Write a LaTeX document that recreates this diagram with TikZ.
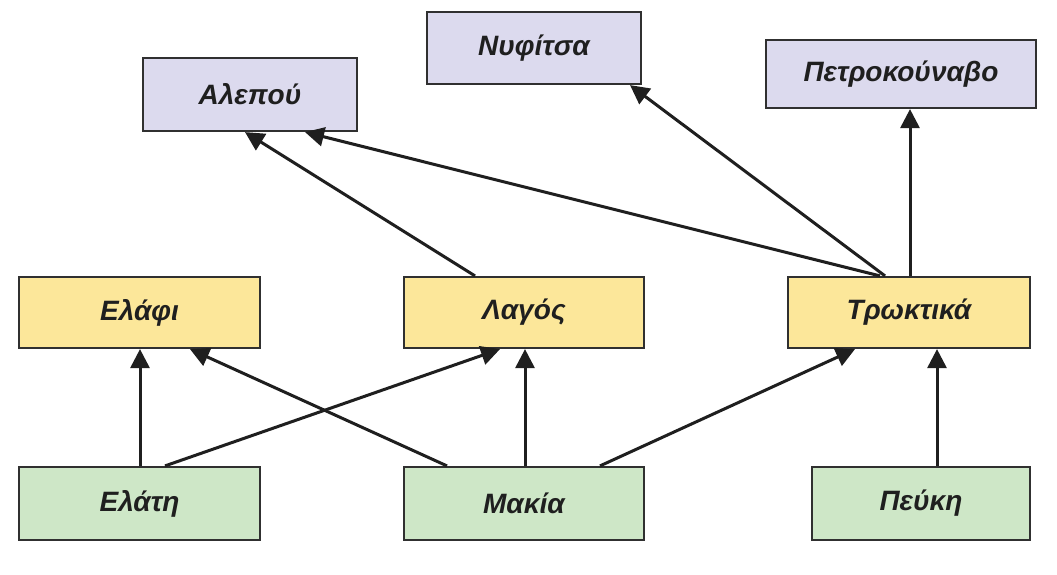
\documentclass[tikz,border=0pt]{standalone}
\usepackage{fontspec}
\setmainfont{Liberation Sans}
\usetikzlibrary{arrows.meta}
\definecolor{lav}{HTML}{DCDAEE}
\definecolor{yel}{HTML}{FCE79A}
\definecolor{grn}{HTML}{CEE7C7}
\definecolor{edge}{HTML}{303030}
\tikzset{
  box/.style={draw=edge, line width=2.2pt, inner sep=0pt, font=\fontsize{28}{32}\selectfont\bfseries\itshape, text=black!88},
  topbox/.style={box, fill=lav},
  midbox/.style={box, fill=yel},
  botbox/.style={box, fill=grn},
  arr/.style={draw=black!88, line width=3pt, -{Triangle[length=19pt,width=19pt]}}
}
\begin{document}
\begin{tikzpicture}[x=1pt,y=-1pt]
\useasboundingbox (0,0) rectangle (1057,575);
\node[topbox, minimum width=214pt, minimum height=73pt] (alepou) at (250,94.5) {Αλεπού};
\node[topbox, minimum width=214pt, minimum height=72pt] (nyfitsa) at (534,48) {Νυφίτσα};
\node[topbox, minimum width=270pt, minimum height=68pt] (petro) at (901,74) {Πετροκούναβο};
\node[midbox, minimum width=241pt, minimum height=71pt] (elafi) at (139.5,312.5) {Ελάφι};
\node[midbox, minimum width=240pt, minimum height=71pt] (lagos) at (524,312.5) {Λαγός};
\node[midbox, minimum width=242pt, minimum height=71pt] (trokt) at (909,312.5) {Τρωκτικά};
\node[botbox, minimum width=241pt, minimum height=73pt] (elati) at (139.5,503.5) {Ελάτη};
\node[botbox, minimum width=240pt, minimum height=73pt] (makia) at (524,503.5) {Μακία};
\node[botbox, minimum width=218pt, minimum height=73pt] (peuki) at (921,503.5) {Πεύκη};
\draw[arr] ([xshift=0.5pt]elati.north) -- ([xshift=0.5pt]elafi.south);
\draw[arr] ([xshift=25.5pt]elati.north) -- ([xshift=-24pt]lagos.south);
\draw[arr] ([xshift=-77pt]makia.north) -- ([xshift=50.5pt]elafi.south);
\draw[arr] ([xshift=1pt]makia.north) -- ([xshift=1pt]lagos.south);
\draw[arr] ([xshift=76pt]makia.north) -- ([xshift=-54pt]trokt.south);
\draw[arr] ([xshift=16pt]peuki.north) -- ([xshift=28pt]trokt.south);
\draw[arr] ([xshift=-49pt]lagos.north) -- ([xshift=-5pt]alepou.south);
\draw[arr] ([xshift=-29pt]trokt.north) -- ([xshift=55pt]alepou.south);
\draw[arr] ([xshift=-24pt]trokt.north) -- ([xshift=96pt]nyfitsa.south);
\draw[arr] ([xshift=1pt]trokt.north) -- ([xshift=9pt]petro.south);
\end{tikzpicture}
\end{document}
